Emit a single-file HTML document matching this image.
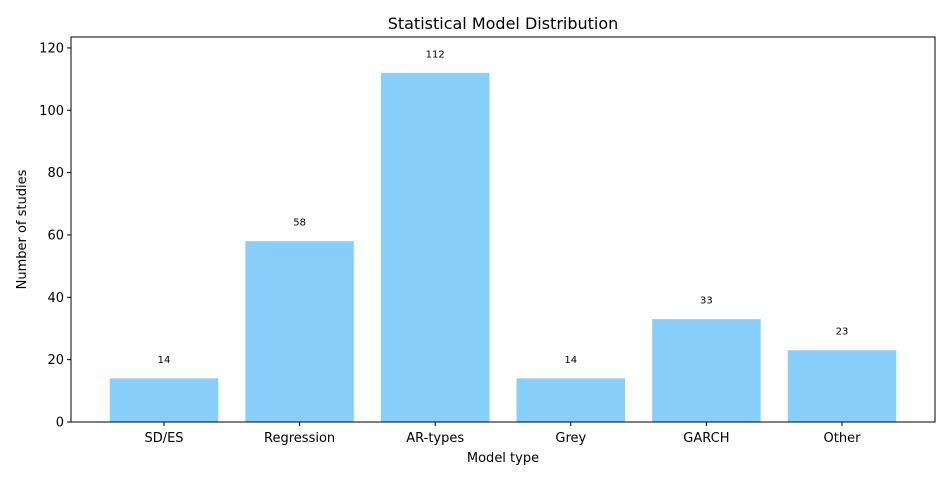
<!DOCTYPE html>
<html><head><meta charset="utf-8"><style>
body{margin:0;background:#fff;font-family:"Liberation Sans","DejaVu Sans",sans-serif}
svg text{font-family:"DejaVu Sans","Liberation Sans",sans-serif}
</style></head><body>
<svg id="c" width="950" height="480" xmlns="http://www.w3.org/2000/svg"></svg>
<script>
const categories=["SD/ES","Regression","AR-types","Grey","GARCH","Other"];
const values=[14,58,112,14,33,23];
const yTicks=[0,20,40,60,80,100,120];
const L=71,R=935,T=37,B=422,yMax=123.5,xMin=-0.686,xMax=5.686;
const ns="http://www.w3.org/2000/svg";
const svg=document.getElementById('c');
const X=v=>L+(v-xMin)/(xMax-xMin)*(R-L);
const Y=v=>B-v/yMax*(B-T);
function mk(t,a,txt){const e=document.createElementNS(ns,t);for(const k in a)e.setAttribute(k,a[k]);if(txt!==undefined)e.textContent=txt;svg.appendChild(e);return e;}
const bw=(X(0.4)-X(-0.4));
values.forEach((v,i)=>{
 const r=mk('rect',{x:X(i)-bw/2,y:Y(v),width:bw,height:Y(0)-Y(v),fill:'#87cefa'});
 
 
 const t=mk('text',{x:X(i),y:Y(v+5),'font-size':'10','text-anchor':'middle',fill:'#000'},String(v));
 
 
 mk('line',{x1:X(i),x2:X(i),y1:B,y2:B+4,stroke:'#000','stroke-width':1});
 const xl=mk('text',{x:X(i),y:B+20,'font-size':'13','text-anchor':'middle'},categories[i]);
 
 
});
yTicks.forEach(v=>{
 mk('line',{x1:L-4,x2:L,y1:Y(v),y2:Y(v),stroke:'#000','stroke-width':1});
 const t=mk('text',{x:L-7,y:Y(v)+4.5,'font-size':'13','text-anchor':'end'},String(v));
 
 
});
const f=mk('rect',{x:L,y:T,width:R-L,height:B-T,fill:'none',stroke:'#000','stroke-width':1});


const ti=mk('text',{x:(L+R)/2,y:29,'font-size':'16','text-anchor':'middle'},'Statistical Model Distribution');


const xt=mk('text',{x:(L+R)/2,y:462,'font-size':'13','text-anchor':'middle'},'Model type');


const yt=mk('text',{x:26,y:(T+B)/2,'font-size':'13','text-anchor':'middle',transform:`rotate(-90 26 ${(T+B)/2})`},'Number of studies');


</script>
</body></html>
